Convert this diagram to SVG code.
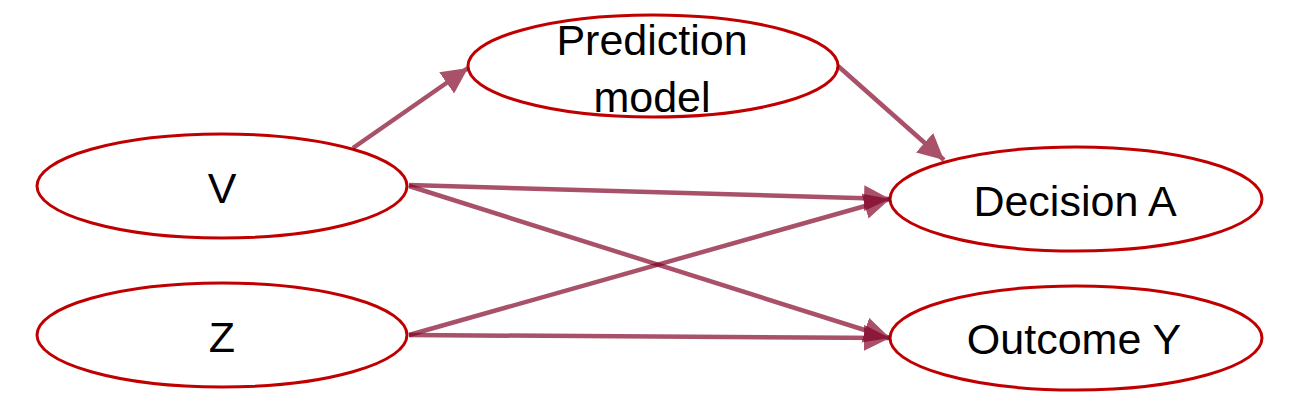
<svg xmlns="http://www.w3.org/2000/svg" width="1294" height="404" viewBox="0 0 1294 404">
<style>
.node ellipse{fill:#ffffff;stroke:#c00000;stroke-width:3}
.node text{font-family:"Liberation Sans",Arial,sans-serif;font-size:43px;fill:#000000;text-anchor:middle}
.edge{opacity:0.68}
.edge line{stroke:#7f0023;stroke-width:4.5;fill:none;marker-end:url(#ah)}
</style>
<defs>
<marker id="ah" markerUnits="userSpaceOnUse" markerWidth="27" markerHeight="26" refX="26" refY="13" orient="auto" viewBox="0 0 27 26">
<path d="M0,0 L26,13 L0,26 z" fill="#7f0023"/>
</marker>
</defs>
<rect width="1294" height="404" fill="#ffffff"/>
<g id="node-pred" class="node">
<ellipse cx="653" cy="66" rx="185" ry="51"/>
<text x="652" y="55">Prediction</text>
<text x="652" y="112">model</text>
</g>
<g id="node-v" class="node">
<ellipse cx="222" cy="186" rx="185" ry="52"/>
<text x="222" y="203">V</text>
</g>
<g id="node-z" class="node">
<ellipse cx="222" cy="335" rx="185" ry="52"/>
<text x="222" y="352">Z</text>
</g>
<g id="node-a" class="node">
<ellipse cx="1076" cy="199" rx="186" ry="52"/>
<text x="1075" y="216">Decision A</text>
</g>
<g id="node-y" class="node">
<ellipse cx="1076" cy="338" rx="186" ry="52"/>
<text x="1074" y="354">Outcome Y</text>
</g>
<g id="connectors">
<g class="edge"><line x1="353" y1="148" x2="468" y2="68"/></g>
<g class="edge"><line x1="838" y1="66" x2="944" y2="160"/></g>
<g class="edge"><line x1="409" y1="185" x2="890" y2="199"/></g>
<g class="edge"><line x1="409" y1="335" x2="890" y2="199"/></g>
<g class="edge"><line x1="409" y1="186" x2="890" y2="338"/></g>
<g class="edge"><line x1="409" y1="335" x2="890" y2="338"/></g>
</g>
</svg>
